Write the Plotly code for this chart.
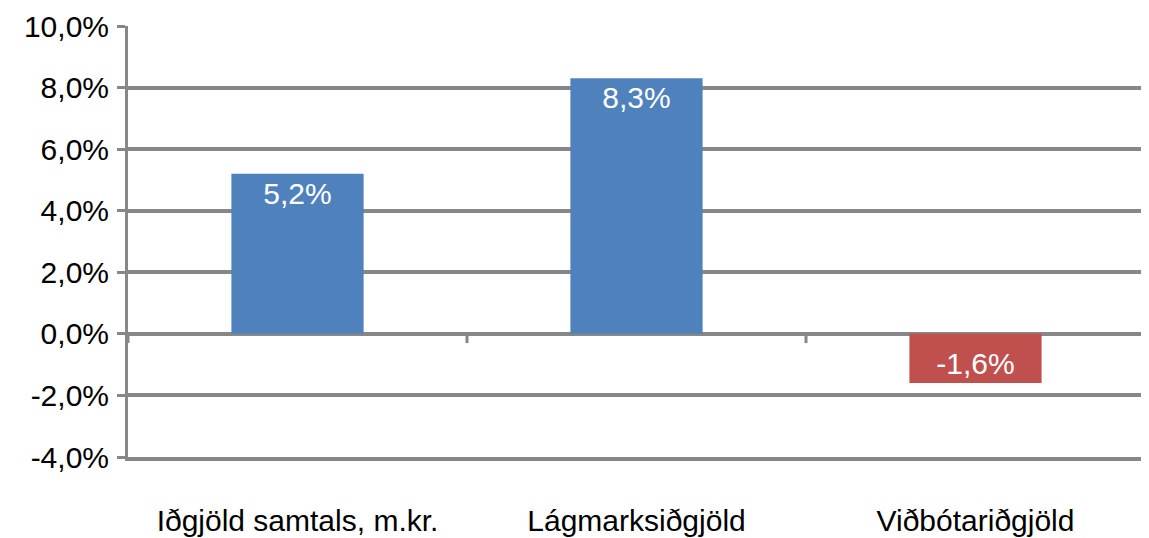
import plotly.graph_objects as go

categories = ["Iðgjöld samtals, m.kr.", "Lágmarksiðgjöld", "Viðbótariðgjöld"]
values = [5.2, 8.3, -1.6]
labels = ["5,2%", "8,3%", "-1,6%"]
colors = ["#4F81BD", "#4F81BD", "#C0504D"]
y_ticks = [-4, -2, 0, 2, 4, 6, 8, 10]
y_tick_text = ["-4,0%", "-2,0%", "0,0%", "2,0%", "4,0%", "6,0%", "8,0%", "10,0%"]

GRID = "#878787"
FONT = "Liberation Sans, Arial, sans-serif"
FS = 30

fig = go.Figure()
fig.add_trace(go.Bar(
    x=categories, y=values, text=labels,
    marker=dict(color=colors, line=dict(width=0)),
    textposition="inside", insidetextanchor="end",
    textfont=dict(color="white", size=FS, family=FONT),
    width=0.39, cliponaxis=False, textangle=0,
))

# tick marks on the zero line at category boundaries
for b in [-0.5, 0.5, 1.5, 2.5]:
    fig.add_shape(type="line", xref="x", yref="y", x0=b, x1=b, y0=0, y1=-0.3,
                  line=dict(color=GRID, width=3))

# page body adds an 8px offset; compensate in size and margins
fig.update_layout(
    width=1141, height=530,
    margin=dict(l=120, r=4, t=18, b=81),
    paper_bgcolor="white", plot_bgcolor="white",
    showlegend=False,
    font=dict(family=FONT, color="black", size=FS),
)
fig.update_xaxes(
    range=[-0.5, 2.5], showgrid=False, zeroline=False,
    showline=True, linecolor=GRID, linewidth=3.5,
    ticks="", tickfont=dict(size=FS, family=FONT, color="black"),
    ticklabelstandoff=34, automargin=False, fixedrange=True,
)
fig.update_yaxes(
    range=[-4, 10], tickvals=y_ticks, ticktext=y_tick_text,
    showgrid=True, gridcolor=GRID, gridwidth=3.5,
    zeroline=True, zerolinecolor=GRID, zerolinewidth=3.5,
    showline=True, linecolor=GRID, linewidth=3,
    ticks="outside", ticklen=8, tickwidth=3, tickcolor=GRID,
    tickfont=dict(size=FS, family=FONT, color="black"), ticklabelstandoff=2,
    automargin=False, fixedrange=True,
)

fig.write_html("out.html")
